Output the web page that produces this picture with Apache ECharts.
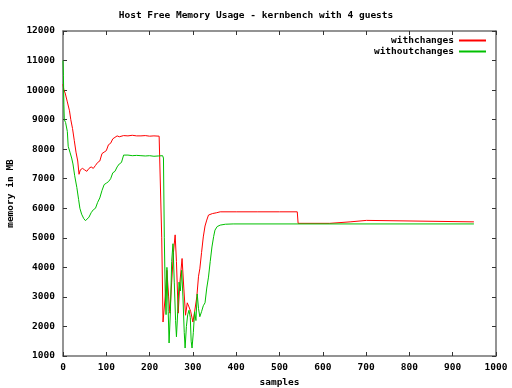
<!DOCTYPE html>
<html>
<head>
<meta charset="utf-8">
<script src="https://cdn.jsdelivr.net/npm/echarts@6/dist/echarts.min.js"></script>
<style>html,body{margin:0;padding:0;background:#fff}#c{width:512px;height:388px}</style>
</head>
<body>
<div id="c"></div>
<script>
const titleText = "Host Free Memory Usage - kernbench with 4 guests";
const seriesNames = ["withchanges", "withoutchanges"];
const xTicks = {min: 0, max: 1000, interval: 100};
const yTicks = {min: 1000, max: 12000, interval: 1000};

const withX = [0,2,5,10,15,18,22,26,30,34,37,40,45,50,55,60,65,70,75,80,85,90,95,100,105,110,115,120,125,130,140,150,160,170,180,190,200,210,222,224,228,231,236,240,244,247,251,255,259,262,266,270,275,279,283,287,291,295,300,304,309,313,316,320,324,328,332,336,345,355,363,400,450,500,541,543,616,618,663,665,701,703,949];
const withY = [10200,10000,9900,9600,9300,9000,8700,8300,7900,7600,7150,7300,7350,7300,7250,7350,7400,7350,7450,7550,7600,7850,7900,7950,8150,8200,8350,8400,8450,8420,8460,8450,8470,8450,8450,8460,8440,8450,8440,8400,5000,2150,3000,3900,3000,2450,3500,4500,5100,4200,2450,3500,4300,3300,2380,2800,2660,2500,2150,2500,3000,3700,3950,4500,5030,5400,5600,5770,5820,5850,5880,5880,5880,5880,5880,5490,5490,5540,5540,5590,5590,5540,5540];

const withoutX = [0,1,2,3,6,10,12,16,20,23,27,32,36,39,43,48,52,56,60,65,70,75,80,85,90,95,100,105,110,115,120,125,130,135,140,150,160,170,180,190,200,210,220,230,232,234,236,238,240,243,245,248,251,254,257,260,262,265,268,271,274,277,280,282,285,288,291,294,296,298,301,304,307,310,313,316,320,324,328,332,336,340,344,348,351,356,363,375,393,949];
const withoutY = [11000,10500,9500,9000,8900,8600,8100,7900,7700,7500,7100,6700,6300,6000,5800,5650,5580,5580,5700,5850,5950,6000,6200,6350,6600,6800,6850,6900,7000,7200,7250,7400,7500,7550,7800,7800,7780,7790,7780,7770,7780,7760,7770,7780,7700,5000,3200,2400,4000,2500,1440,2500,4200,4800,3500,2200,1650,2500,3500,3200,3900,3000,1800,1270,2000,2400,2550,2300,1500,1270,1800,2500,2200,3100,2600,2330,2500,2700,2800,3300,3670,4200,4690,5050,5260,5380,5430,5460,5470,5470];

const font = "DejaVu Sans Mono";
const fs = 9.5;
const axisColor = "#707070";

function pairs(xs, ys) { return xs.map((x, i) => [x, ys[i]]); }
const plain = v => String(v);

const chart = echarts.init(document.getElementById('c'), null, {renderer: 'canvas'});
const xBase = {
  type: 'value', min: xTicks.min, max: xTicks.max, interval: xTicks.interval,
  axisLine: {onZero: false, lineStyle: {color: axisColor, width: 1.5}},
  axisTick: {inside: true, length: 4, lineStyle: {color: '#333'}},
  splitLine: {show: false}
};
const yBase = {
  type: 'value', min: yTicks.min, max: yTicks.max, interval: yTicks.interval,
  axisLine: {show: true, onZero: false, lineStyle: {color: axisColor, width: 1.5}},
  axisTick: {show: true, inside: true, length: 4, lineStyle: {color: '#333'}},
  splitLine: {show: false}
};
chart.setOption({
  animation: false,
  backgroundColor: '#fff',
  title: {text: titleText, left: 'center', top: 6,
    textStyle: {fontFamily: font, fontSize: fs, fontWeight: 'bold', color: '#000'}},
  grid: {left: 63, right: 16, top: 31, bottom: 32, containLabel: false, outerBoundsMode: 'none'},
  legend: {
    orient: 'vertical', right: 21, top: 30, align: 'right',
    itemWidth: 27, itemHeight: 2, itemGap: 0, icon: 'rect',
    textStyle: {fontFamily: font, fontSize: fs, fontWeight: 'bold', color: '#000', lineHeight: 11, padding: [0, 0, 0, 0]},
    data: seriesNames
  },
  xAxis: [
    Object.assign({}, xBase, {position: 'bottom', name: 'samples', nameLocation: 'middle', nameGap: 20,
      nameTextStyle: {fontFamily: font, fontSize: fs, fontWeight: 'bold', color: '#000'},
      axisLabel: {fontFamily: font, fontSize: fs, fontWeight: 'bold', color: '#000', margin: 7, formatter: plain}}),
    Object.assign({}, xBase, {position: 'top', axisLabel: {show: false}})
  ],
  yAxis: [
    Object.assign({}, yBase, {position: 'left', name: 'memory in MB', nameLocation: 'middle', nameGap: 43,
      nameTextStyle: {fontFamily: font, fontSize: fs, fontWeight: 'bold', color: '#000'},
      axisLabel: {fontFamily: font, fontSize: fs, fontWeight: 'bold', color: '#000', margin: 8, formatter: plain}}),
    Object.assign({}, yBase, {position: 'right', axisLabel: {show: false}})
  ],
  series: [
    {name: seriesNames[0], type: 'line', data: pairs(withX, withY), showSymbol: false, symbol: 'none',
      lineStyle: {color: '#ff0000', width: 1}, itemStyle: {color: '#ff0000'}},
    {name: seriesNames[1], type: 'line', data: pairs(withoutX, withoutY), showSymbol: false, symbol: 'none',
      lineStyle: {color: '#00c000', width: 1}, itemStyle: {color: '#00c000'}}
  ]
});
</script>
</body>
</html>
